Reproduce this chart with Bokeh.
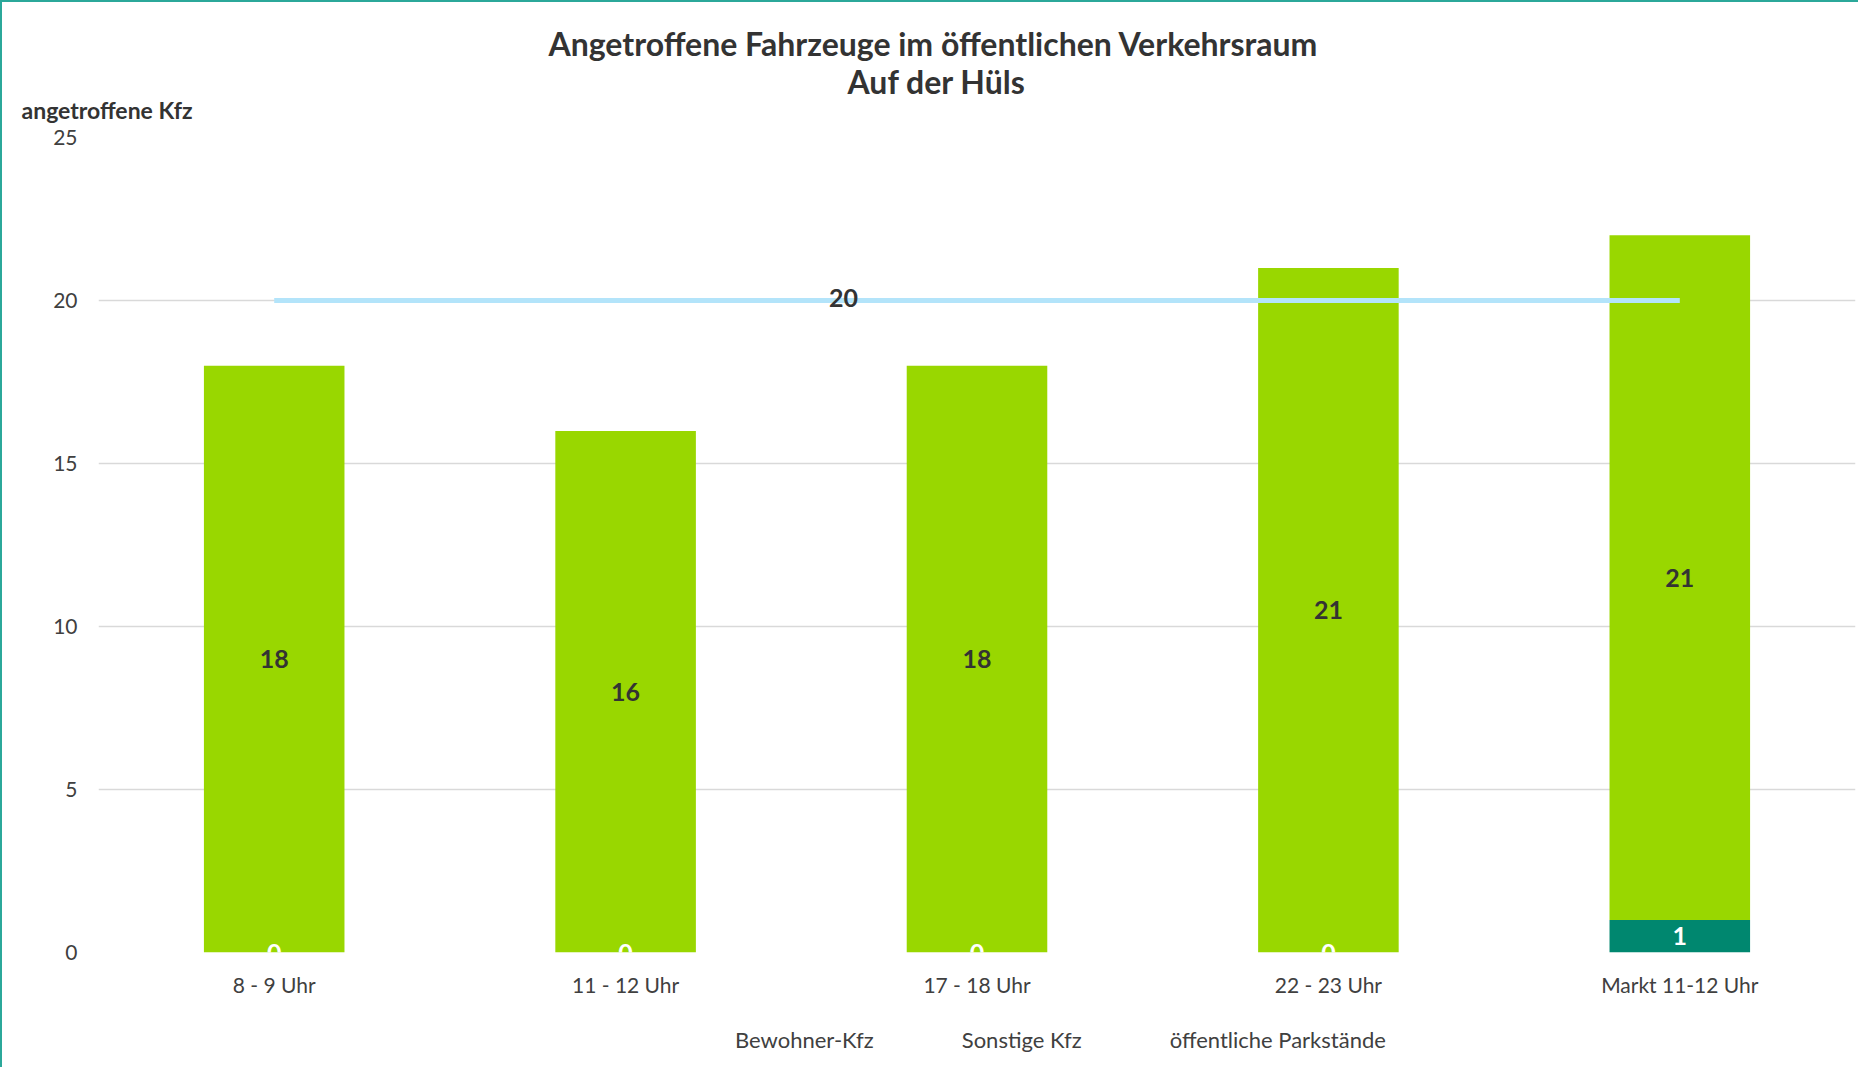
from bokeh.plotting import figure
from bokeh.layouts import column
from bokeh.models import (ColumnDataSource, LabelSet, Legend, LegendItem,
                          FixedTicker, Range1d, Title)
from bokeh.core.properties import value
from bokeh.embed import file_html
from bokeh.resources import INLINE

categories = ["8 - 9 Uhr", "11 - 12 Uhr", "17 - 18 Uhr", "22 - 23 Uhr", "Markt 11-12 Uhr"]
bewohner = [0, 0, 0, 0, 1]
sonstige = [18, 16, 18, 21, 21]
parkstaende = [20, 20, 20, 20, 20]
y_ticks = [0, 5, 10, 15, 20, 25]
series_names = ["Bewohner-Kfz", "Sonstige Kfz", "öffentliche Parkstände"]

FONT = "Lato"
TEAL = "#00876F"
GREEN = "#99D700"
LIGHTBLUE = "#B3E4FA"
TXT = "#404040"
DARK = "#333333"
BORDER = "2px solid #2BA89A"

src = ColumnDataSource(dict(
    cat=categories,
    bewohner=bewohner,
    sonstige=sonstige,
    park=parkstaende,
    bew_y=[b / 2 for b in bewohner],
    son_y=[b + s / 2 for b, s in zip(bewohner, sonstige)],
    bew_t=[str(v) for v in bewohner],
    son_t=[str(v) for v in sonstige],
))

p = figure(x_range=categories, y_range=Range1d(0, 25), width=1856, height=990,
           frame_width=1755, frame_height=813,
           output_backend="svg", toolbar_location=None, title=None,
           min_border_left=96, min_border_right=5, min_border_top=135, min_border_bottom=42)
p.styles = {"border-left": BORDER, "border-top": BORDER}
p.outline_line_color = None
p.background_fill_color = "white"
p.border_fill_color = "white"

p.vbar_stack(["bewohner", "sonstige"], x="cat", width=0.4, source=src,
             color=[TEAL, GREEN], line_color=None)
p.line(x="cat", y="park", source=src, line_color=LIGHTBLUE, line_width=5)

# data labels
p.add_layout(LabelSet(x="cat", y="son_y", text="son_t", source=src,
                      text_align="center", text_baseline="middle",
                      text_font=value(FONT), text_font_style="bold",
                      text_font_size="25px", text_color=DARK))
p.add_layout(LabelSet(x="cat", y="bew_y", text="bew_t", source=src,
                      text_align="center", text_baseline="middle",
                      text_font=value(FONT), text_font_style="bold",
                      text_font_size="25px", text_color="white"))
line_lbl = ColumnDataSource(dict(x=[categories[1]], y=[parkstaende[1]], t=[str(parkstaende[1])]))
p.add_layout(LabelSet(x="x", y="y", text="t", source=line_lbl, x_offset=218, y_offset=3,
                      text_align="center", text_baseline="middle",
                      text_font=value(FONT), text_font_style="bold",
                      text_font_size="25px", text_color=DARK))

# axes
p.yaxis.ticker = FixedTicker(ticks=y_ticks)
p.yaxis.axis_line_color = None
p.yaxis.major_tick_line_color = None
p.yaxis.minor_tick_line_color = None
p.yaxis.major_label_standoff = 15
p.yaxis.major_label_text_font = FONT
p.yaxis.major_label_text_font_size = "21px"
p.yaxis.major_label_text_color = TXT

p.xaxis.axis_line_color = None
p.xaxis.major_tick_line_color = None
p.xaxis.major_label_standoff = 13
p.xaxis.major_label_text_font = FONT
p.xaxis.major_label_text_font_size = "21px"
p.xaxis.major_label_text_color = TXT

p.xgrid.grid_line_color = None
p.ygrid.grid_line_color = "#D9D9D9"
p.ygrid.grid_line_width = 1.5

# titles (later added = further from the frame)
p.add_layout(Title(text="angetroffene Kfz", align="left", offset=-77, standoff=27,
                   text_font=FONT, text_font_style="bold", text_font_size="23px",
                   text_color=DARK), "above")
p.add_layout(Title(text="Auf der Hüls", align="left", offset=749, standoff=-40,
                   text_font=FONT, text_font_style="bold", text_font_size="32px",
                   text_color=DARK), "above")
p.add_layout(Title(text="Angetroffene Fahrzeuge im öffentlichen Verkehrsraum",
                   align="left", offset=450, standoff=34,
                   text_font=FONT, text_font_style="bold", text_font_size="32px",
                   text_color=DARK), "above")

# legend strip (separate small figure so the legend is never clipped)
pl = figure(width=1856, height=70, x_range=(0, 1), y_range=(0, 1),
            output_backend="svg", toolbar_location=None, title=None,
            min_border_left=0, min_border_right=0, min_border_top=0, min_border_bottom=0)
pl.styles = {"border-left": BORDER}
pl.axis.visible = False
pl.grid.visible = False
pl.outline_line_color = None
pl.background_fill_color = "white"
pl.border_fill_color = "white"
empty = ColumnDataSource(dict(x=[], top=[], y=[]))
g1 = pl.vbar(x="x", top="top", width=0.1, source=empty, color=TEAL, line_color=None)
g2 = pl.vbar(x="x", top="top", width=0.1, source=empty, color=GREEN, line_color=None)
g3 = pl.line(x="x", y="y", source=empty, line_color=LIGHTBLUE, line_width=5)

legend = Legend(items=[
    LegendItem(label=series_names[0], renderers=[g1]),
    LegendItem(label=series_names[1], renderers=[g2]),
    LegendItem(label=series_names[2], renderers=[g3]),
], orientation="horizontal", location=(587, 14), border_line_color=None,
    label_text_font=FONT, label_text_font_size="22px", label_text_color=TXT,
    glyph_width=45, glyph_height=15, label_standoff=5, spacing=38,
    padding=0, margin=0, background_fill_alpha=0)
pl.add_layout(legend)

layout = column(p, pl, spacing=0)
open("out.html", "w").write(file_html(layout, INLINE))
